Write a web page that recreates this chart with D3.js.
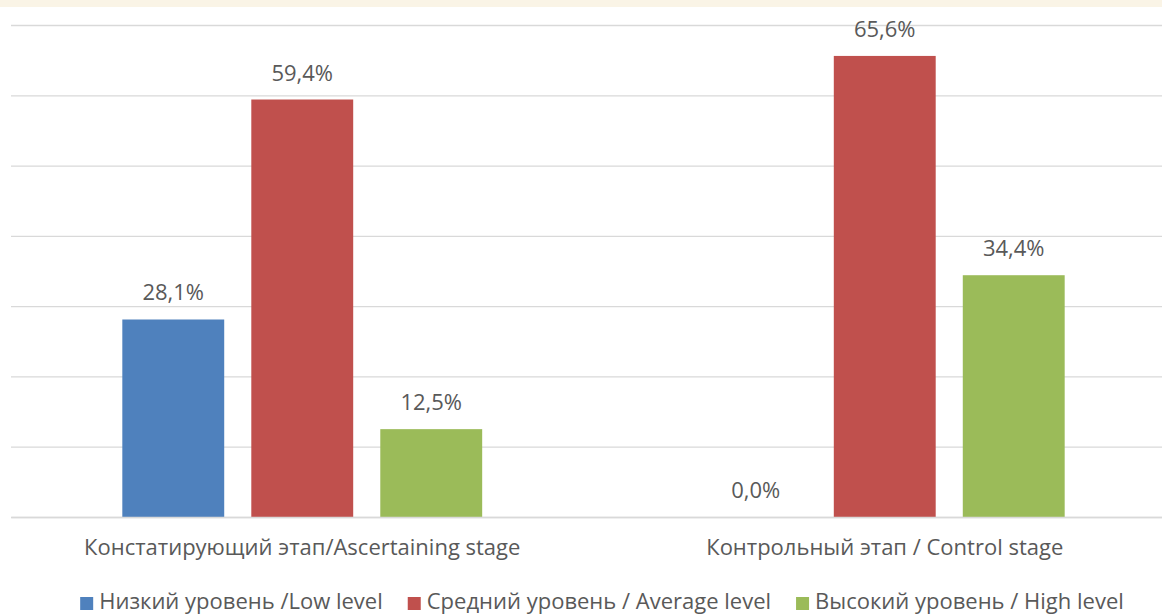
<!DOCTYPE html>
<html>
<head>
<meta charset="utf-8">
<script src="https://cdn.jsdelivr.net/npm/d3@7"></script>
<style>
  body { margin: 0; background: #fff; }
  svg { display: block; }
  text { font-family: 'Open Sans', sans-serif; fill: #595959; }
</style>
</head>
<body>
<script>
const categories = [
  'Констатирующий этап/Ascertaining stage',
  'Контрольный этап / Control stage',
];
const seriesNames = [
  'Низкий уровень /Low level',
  'Средний уровень / Average level',
  'Высокий уровень / High level',
];
const lowValues = [28.1, 0.0];
const averageValues = [59.4, 65.6];
const highValues = [12.5, 34.4];
const yTicks = [0, 10, 20, 30, 40, 50, 60, 70];
const colors = ['#4f81bd', '#c0504d', '#9bbb59'];

const w = 1162;
const h = 614;
const fontSize = '22px';

const svg = d3.select('body').append('svg').attr('width', w).attr('height', h);

// faint strip at the top of the picture
svg.append('rect').attr('x', 0).attr('y', 0).attr('width', w).attr('height', 7).attr('fill', '#faf4e6');

const series = [lowValues, averageValues, highValues];
const rows = categories.map((c, i) => ({
  category: c,
  values: seriesNames.map((s, j) => ({ name: s, value: series[j][i], color: colors[j] })),
}));

const yScale = d3.scaleLinear().domain([0, 70]).range([517, 25]);

const x0 = d3.scaleBand().domain(categories).range([11, 1176]).padding(0);
const x1 = d3
  .scaleBand()
  .domain(seriesNames)
  .range([0, x0.bandwidth()])
  .paddingInner(0.21)
  .paddingOuter(0.863);

// gridlines
const yAxis = d3.axisLeft(yScale).tickValues(yTicks).tickSize(-(1176 - 11)).tickFormat('');
const grid = svg.append('g').attr('transform', 'translate(11,0)').call(yAxis);
grid.select('.domain').remove();
grid.selectAll('.tick line').attr('stroke', '#d9d9d9').attr('stroke-width', 1.3);

// bars
const groups = svg
  .selectAll('.group')
  .data(rows)
  .enter()
  .append('g')
  .attr('class', 'group')
  .attr('transform', (d) => `translate(${x0(d.category)},0)`);

groups
  .selectAll('rect')
  .data((d) => d.values)
  .enter()
  .append('rect')
  .attr('x', (d) => x1(d.name))
  .attr('y', (d) => yScale(d.value))
  .attr('width', x1.bandwidth())
  .attr('height', (d) => yScale(0) - yScale(d.value))
  .attr('fill', (d) => d.color);

const fmt = (v) => d3.format('.1f')(v).replace('.', ',') + '%';

groups
  .selectAll('.label')
  .data((d) => d.values)
  .enter()
  .append('text')
  .attr('class', 'label')
  .attr('x', (d) => x1(d.name) + x1.bandwidth() / 2)
  .attr('y', (d) => yScale(d.value) - 19)
  .attr('text-anchor', 'middle')
  .style('font-size', fontSize)
  .text((d) => fmt(d.value));

// category axis
const xAxis = d3.axisBottom(x0).tickSize(0).tickPadding(0);
const xg = svg.append('g').attr('transform', 'translate(0,517)').call(xAxis);
xg.select('.domain').attr('stroke', '#d9d9d9').attr('stroke-width', 1.3);
xg.selectAll('.tick text')
  .attr('y', 38)
  .attr('dy', 0)
  .style('font-size', fontSize)
  .style('fill', '#595959')
  .style('font-family', "'Open Sans', sans-serif");

// legend
const legend = svg.append('g');
const items = legend
  .selectAll('g')
  .data(seriesNames)
  .enter()
  .append('g');
items
  .append('rect')
  .attr('width', 13)
  .attr('height', 13)
  .attr('y', -12)
  .attr('fill', (d, i) => colors[i]);
items
  .append('text')
  .attr('x', 19)
  .style('font-size', fontSize)
  .text((d) => d);

let xpos = 0;
items.each(function () {
  const tw = d3.select(this).select('text').node().getComputedTextLength();
  d3.select(this).attr('transform', `translate(${xpos},0)`);
  xpos += 19 + tw + 25;
});
const total = xpos - 25;
legend.attr('transform', `translate(${602 - total / 2},609)`);
</script>
</body>
</html>
